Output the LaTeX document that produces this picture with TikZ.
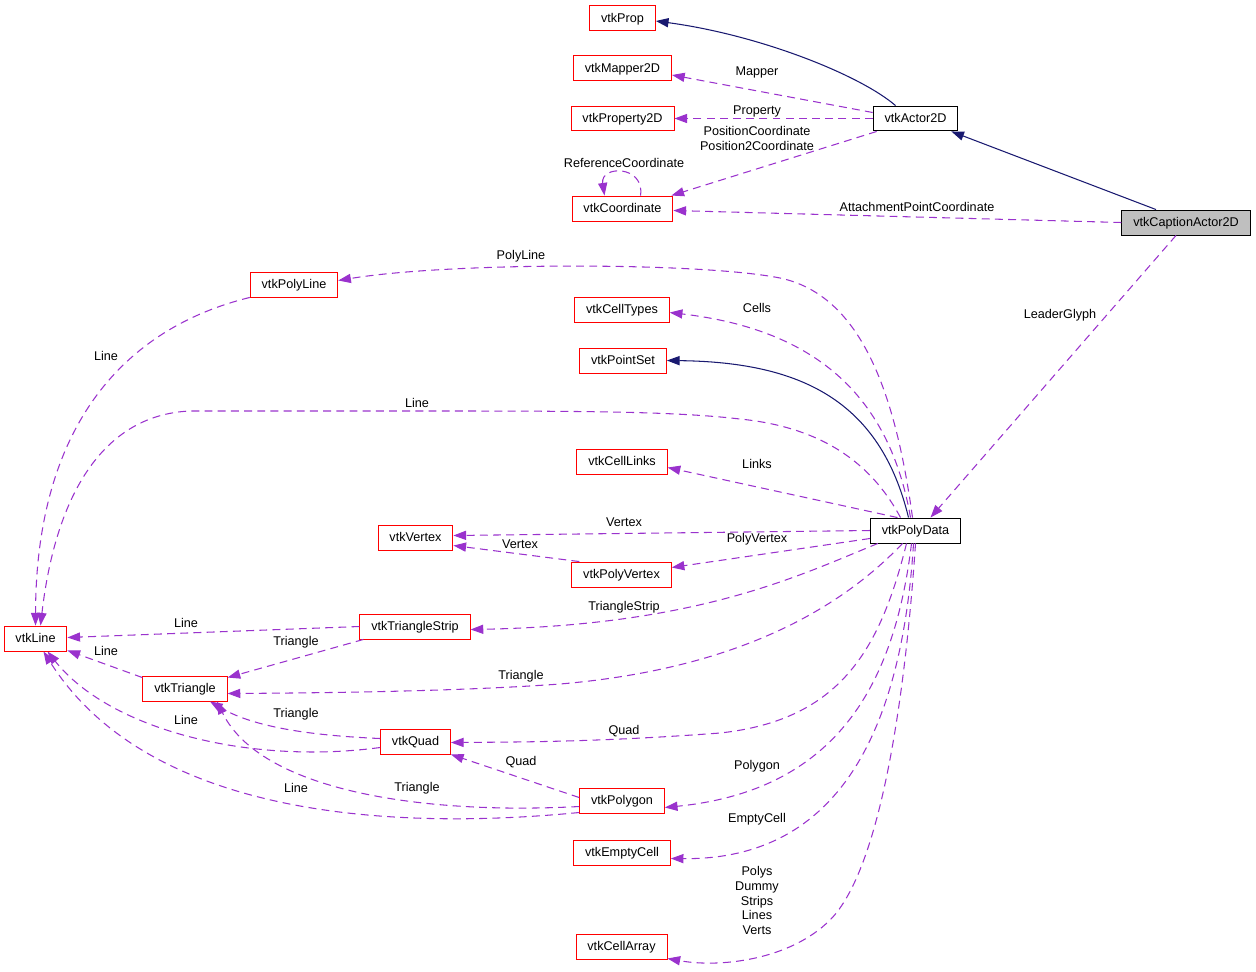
\documentclass[tikz,border=0pt]{standalone}
\usepackage{fontspec}
\setmainfont{Liberation Sans}
\usepackage{tikz}
\usetikzlibrary{arrows.meta,calc}
\definecolor{dxred}{HTML}{FF0000}
\definecolor{dxpurple}{HTML}{9A32CD}
\definecolor{dxnavy}{HTML}{191970}

\begin{document}
\begin{tikzpicture}[x=0.02cm,y=-0.02cm,
    font=\fontsize{7.2}{8.6}\selectfont,
    cls/.style={draw=dxred,line width=0.55pt,inner xsep=6.5pt,inner ysep=0pt,minimum height=14.2pt,text depth=0.6pt},
    plain/.style={cls,draw=black},
    focus/.style={plain,fill=black!25},
    lbl/.style={inner sep=0pt,align=center,font=\fontsize{7.2}{8.4}\selectfont},
    inherit/.style={draw=dxnavy,line width=0.6pt,-{Triangle[length=7.2pt,width=5.2pt]}},
    usage/.style={draw=dxpurple,line width=0.6pt,dash pattern=on 4.5pt off 3pt,-{Triangle[length=7.2pt,width=5.2pt]}}]
        \useasboundingbox (0,0) rectangle (1256,971);

        % Classes
        \node[cls] (prop) at (622.5,18) {vtkProp};
        \node[cls] (map) at (622.5,68) {vtkMapper2D};
        \node[cls] (prop2) at (622.5,118.5) {vtkProperty2D};
        \node[cls] (coord) at (622.5,208.5) {vtkCoordinate};
        \node[plain] (a2d) at (915.5,118.5) {vtkActor2D};
        \node[focus] (cap) at (1186,222.5) {vtkCaptionActor2D};
        \node[cls] (pline) at (294,284.5) {vtkPolyLine};
        \node[cls] (ctypes) at (622,309.5) {vtkCellTypes};
        \node[cls] (pset) at (623,360.5) {vtkPointSet};
        \node[cls] (clinks) at (622,461.5) {vtkCellLinks};
        \node[cls] (vert) at (415.5,537.5) {vtkVertex};
        \node[plain] (pd) at (915.5,530.5) {vtkPolyData};
        \node[cls] (pvert) at (621.5,574.5) {vtkPolyVertex};
        \node[cls] (tstrip) at (415,626.5) {vtkTriangleStrip};
        \node[cls] (line) at (35.5,638.5) {vtkLine};
        \node[cls] (tri) at (185,688.5) {vtkTriangle};
        \node[cls] (quad) at (415.5,741.5) {vtkQuad};
        \node[cls] (pgon) at (622,800.5) {vtkPolygon};
        \node[cls] (empty) at (622,852.5) {vtkEmptyCell};
        \node[cls] (carr) at (621.5,946.5) {vtkCellArray};

        % Inheritance
        \draw[inherit] ($(a2d.north)+(-20,0)$) .. controls (860,75) and (760,35) .. ($(prop.east)+(0,3)$);
        \draw[inherit] ($(cap.north)+(-30,0)$) -- ($(a2d.south east)+(-7,0)$);
        \draw[inherit] ($(pd.north)+(-7,0)$) .. controls (880,400) and (800,362) .. (pset.east);

        % Actor members
        \draw[usage] ($(a2d.west)+(0,-6)$) -- ($(map.east)+(0,7)$);
        \draw[usage] (a2d.west) -- (prop2.east);
        \draw[usage] ($(a2d.south west)+(4,0)$) -- ($(coord.north east)+(-2,0)$);
        \draw[usage] ($(coord.north)+(18,0)$) .. controls (645,165) and (600,165) .. ($(coord.north)+(-18,0)$);
        \draw[usage] (cap.west) -- ($(coord.east)+(0,2)$);
        \draw[usage] ($(cap.south)+(-10,0)$) -- ($(pd.north)+(15,0)$);

        % PolyData members
        \draw[usage] ($(pd.north)+(-3,0)$) .. controls (895,390) and (860,295) .. (780,278) .. controls (700,262) and (450,262) .. ($(pline.east)+(0,-4)$);
        \draw[usage] ($(pd.north)+(-15,0)$) .. controls (875,470) and (830,428) .. (740,419) .. controls (680,412) and (600,411) .. (450,411) -- (190,411) .. controls (100,415) and (55,500) .. ($(line.north)+(5,0)$);
        \draw[usage] ($(pd.north)+(-5,0)$) .. controls (890,400) and (820,330) .. ($(ctypes.east)+(0,3)$);
        \draw[usage] ($(pd.north)+(-18,0)$) -- ($(clinks.east)+(0,6)$);
        \draw[usage] (pd.west) -- ($(vert.east)+(0,-2)$);
        \draw[usage] ($(pd.west)+(0,8)$) -- ($(pvert.east)+(0,-7)$);
        \draw[usage] ($(pd.south west)+(8,0)$) .. controls (800,575) and (700,625) .. ($(tstrip.east)+(0,3)$);
        \draw[usage] ($(pd.south)+(-13,0)$) .. controls (820,630) and (700,672) .. (560,684) .. controls (450,692) and (300,693) .. ($(tri.east)+(0,5)$);
        \draw[usage] ($(pd.south)+(-9,0)$) .. controls (880,650) and (840,720) .. (720,733) .. controls (600,742) and (520,742) .. ($(quad.east)+(0,1)$);
        \draw[usage] ($(pd.south)+(-4,0)$) .. controls (895,680) and (840,790) .. ($(pgon.east)+(0,7)$);
        \draw[usage] ($(pd.south)+(-2,0)$) .. controls (900,760) and (820,860) .. ($(empty.east)+(0,6)$);
        \draw[usage] (pd.south) .. controls (905,700) and (880,870) .. (830,920) .. controls (790,960) and (720,968) .. ($(carr.south east)+(0,-1)$);

        % Cell members
        \draw[usage] (pline.south west) .. controls (125,328) and (36,425) .. (line.north);
        \draw[usage] ($(pvert.north west)+(8,0)$) -- ($(vert.east)+(0,8)$);
        \draw[usage] (tstrip.west) -- ($(line.east)+(0,-1)$);
        \draw[usage] ($(tstrip.south west)+(4,0)$) -- ($(tri.north east)+(0,2)$);
        \draw[usage] ($(tri.north west)+(0,2)$) -- ($(line.south east)+(0,-1)$);
        \draw[usage] ($(quad.west)+(0,-3)$) .. controls (300,735) and (250,725) .. ($(tri.south)+(25,0)$);
        \draw[usage] ($(quad.west)+(0,6)$) .. controls (250,765) and (110,730) .. ($(line.south)+(12,0)$);
        \draw[usage] ($(pgon.west)+(0,-3)$) -- (quad.south east);
        \draw[usage] ($(pgon.west)+(0,6)$) .. controls (420,815) and (260,790) .. ($(tri.south)+(32,0)$);
        \draw[usage] ($(pgon.west)+(0,12)$) .. controls (400,830) and (150,820) .. ($(line.south)+(8,0)$);

        % Labels
        \node[lbl] (lmap) at (757,72) {Mapper};
        \node[lbl] (lprop) at (757,111) {Property};
        \node[lbl] (lpos) at (757,138.5) {PositionCoordinate\\Position2Coordinate};
        \node[lbl] (lref) at (624,163) {ReferenceCoordinate};
        \node[lbl] (latt) at (917,207) {AttachmentPointCoordinate};
        \node[lbl] (llead) at (1060,315) {LeaderGlyph};
        \node[lbl] (lpline) at (521,256) {PolyLine};
        \node[lbl] (lcells) at (757,308) {Cells};
        \node[lbl] (llineA) at (106,356) {Line};
        \node[lbl] (llineB) at (417,403) {Line};
        \node[lbl] (llinks) at (757,464) {Links};
        \node[lbl] (lvertA) at (624,522) {Vertex};
        \node[lbl] (lpvert) at (757,539) {PolyVertex};
        \node[lbl] (lvertB) at (520,544) {Vertex};
        \node[lbl] (ltstrip) at (624,607) {TriangleStrip};
        \node[lbl] (llineC) at (186,623) {Line};
        \node[lbl] (ltriA) at (296,642) {Triangle};
        \node[lbl] (llineD) at (106,651) {Line};
        \node[lbl] (ltriB) at (521,676) {Triangle};
        \node[lbl] (ltriC) at (296,714) {Triangle};
        \node[lbl] (llineE) at (186,720) {Line};
        \node[lbl] (lquadA) at (624,731) {Quad};
        \node[lbl] (lquadB) at (521,762) {Quad};
        \node[lbl] (lpgon) at (757,766) {Polygon};
        \node[lbl] (llineF) at (296,788) {Line};
        \node[lbl] (ltriD) at (417,788) {Triangle};
        \node[lbl] (lempty) at (757,819) {EmptyCell};
        \node[lbl] (larr) at (757,900.5) {Polys\\Dummy\\Strips\\Lines\\Verts};
    \end{tikzpicture}
\end{document}
